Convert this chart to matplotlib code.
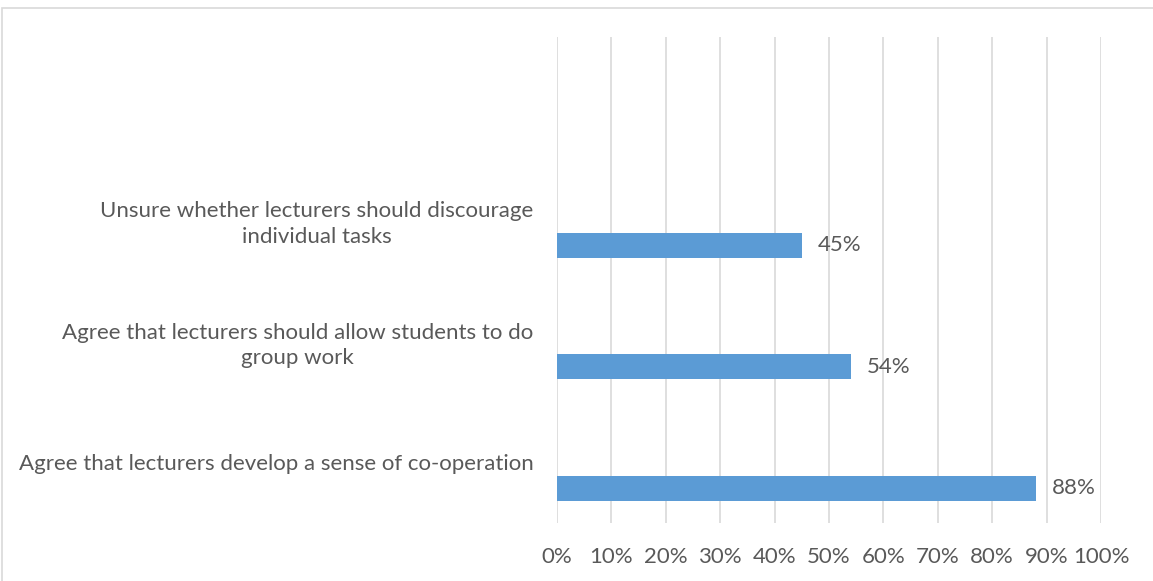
"""Horizontal bar chart: student views on lecturers and group work."""
import matplotlib

matplotlib.use("Agg")
import matplotlib.pyplot as plt
from matplotlib.patches import Rectangle

# categories bottom -> top (the top slot of the chart is empty)
categories = [
    "Agree that lecturers develop a sense of co-operation",
    "Agree that lecturers should allow students to do\ngroup work",
    "Unsure whether lecturers should discourage\nindividual tasks",
    "",
]
values = [88, 54, 45]
xticks = list(range(0, 101, 10))

FONT = ["Lato", "DejaVu Sans"]
TXT = "#595959"
BAR = "#5B9BD5"
GRID = "#D9D9D9"
FS = 16

fig = plt.figure(figsize=(11.53, 5.81), dpi=100)
ax = fig.add_axes([557 / 1153, 1 - 523 / 581, 544 / 1153, 486 / 581])

offset = 0.214  # bars sit below the slot centre
pos = [i - offset for i in range(len(values))]
ax.barh(pos, values, height=0.206, color=BAR, zorder=3)
for p, v in zip(pos, values):
    ax.text(v + 2.9, p, f"{v}%", va="center", ha="left", fontsize=FS,
            color=TXT, family=FONT)

ax.set_xlim(0, 100)
ax.set_ylim(-0.5, len(categories) - 0.5)
ax.set_xticks(xticks)
ax.set_xticklabels([f"{t}%" for t in xticks], fontsize=FS, color=TXT, family=FONT)
ax.set_yticks(range(len(categories)))
ax.set_yticklabels(categories, fontsize=FS, color=TXT, family=FONT,
                   multialignment="center", linespacing=1.35)
ax.tick_params(length=0)
ax.tick_params(axis="y", pad=17)
ax.tick_params(axis="x", pad=17)
ax.grid(True, axis="x", color=GRID, lw=1.2, zorder=0)
for s in ax.spines.values():
    s.set_visible(False)

# chart-area border
fig.patches.append(Rectangle((2 / 1153, -0.01), 1.02, 1 - 8 / 581 + 0.01,
                             transform=fig.transFigure, fill=False,
                             edgecolor="#D9D9D9", lw=1.2))

fig.savefig("out.png", dpi=100)
